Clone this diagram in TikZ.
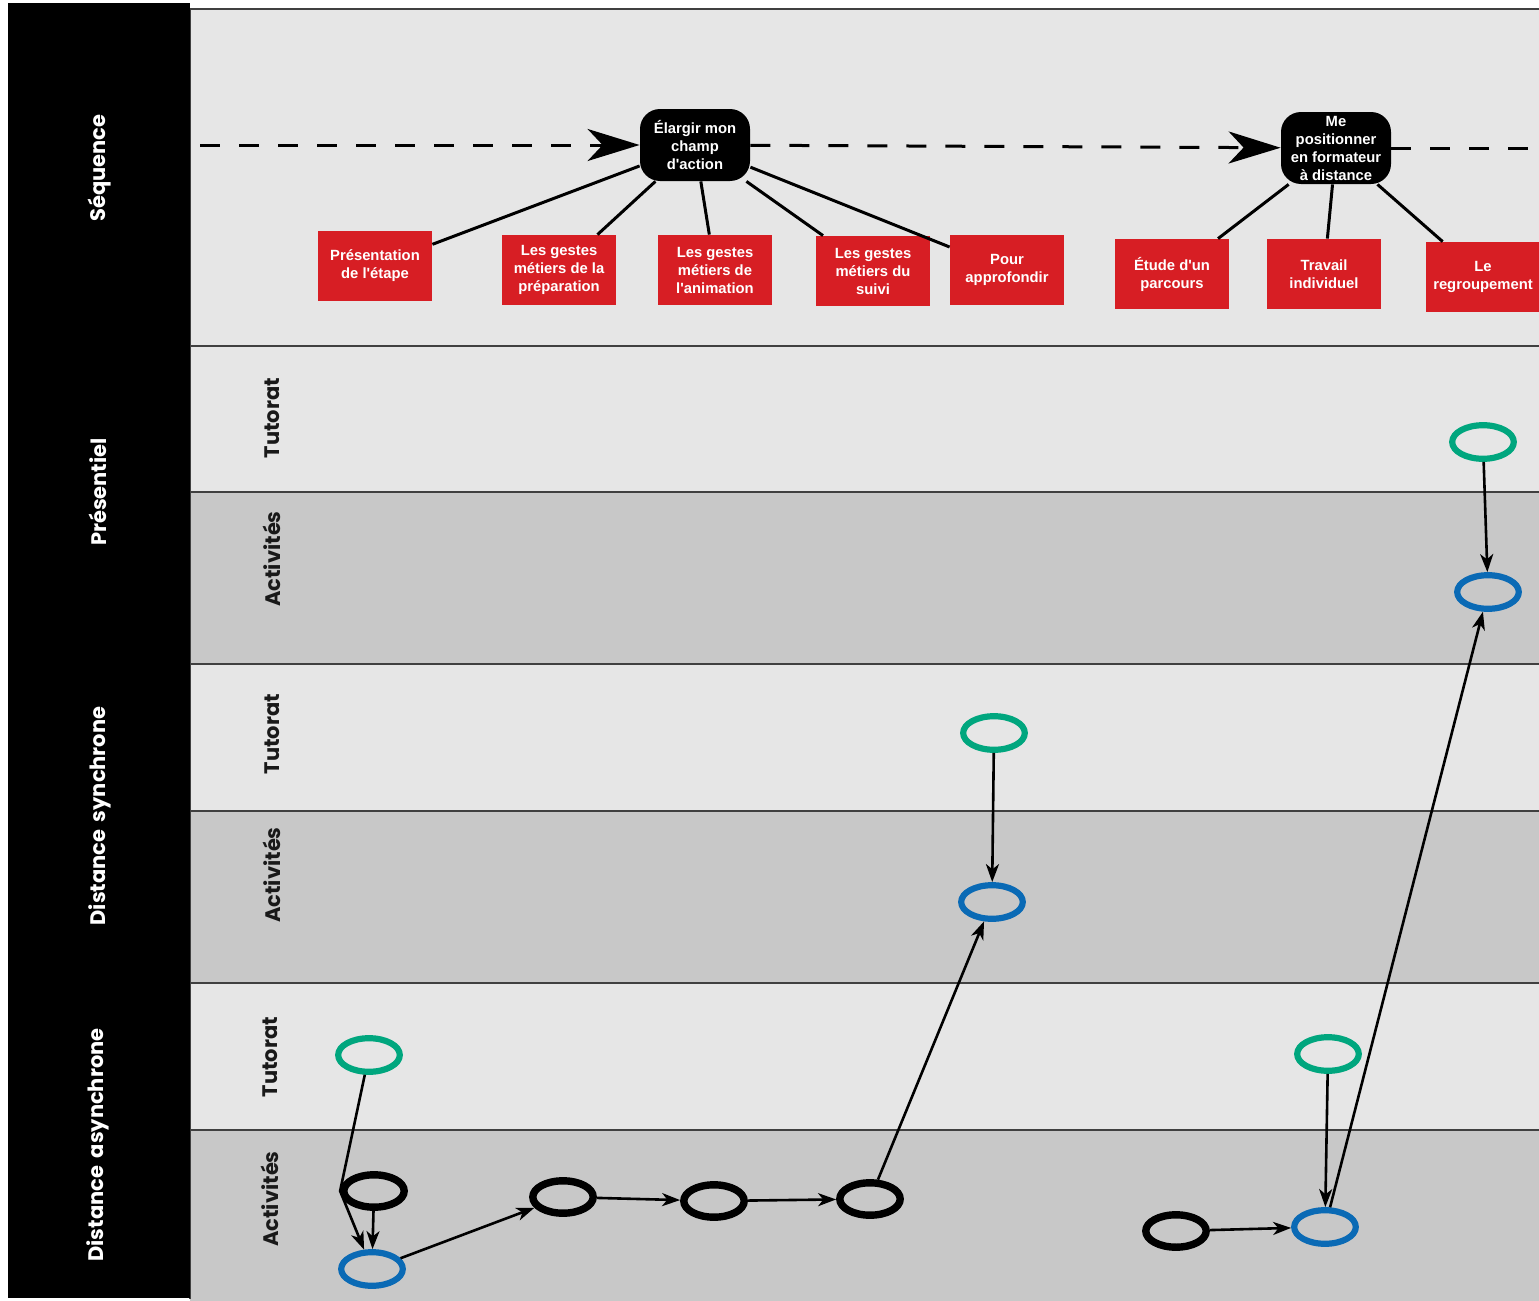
\documentclass[tikz,border=0pt]{standalone}
\usepackage{fontspec}
\setmainfont{Liberation Sans}
\newfontfamily\lanefont{Poppins}[WordSpace=1.7]
\usetikzlibrary{shapes.geometric, arrows.meta, positioning}

\definecolor{boxred}{RGB}{215,30,36}
\definecolor{tutgreen}{RGB}{0,166,126}
\definecolor{actblue}{RGB}{10,106,181}
\definecolor{lanelight}{RGB}{230,230,230}
\definecolor{lanedark}{RGB}{200,200,200}
\definecolor{laneline}{RGB}{64,64,64}
\newcommand{\apos}{\textquotesingle}

\begin{document}
\begin{tikzpicture}[x=0.5pt, y=-0.5pt,
    lanetitle/.style={rotate=90, text=white, font=\lanefont\bfseries\fontsize{10.5}{12}\selectfont},
    sublane/.style={rotate=90, text=black!90, font=\lanefont\bfseries\fontsize{10.5}{12}\selectfont},
    etape/.style={fill=black, text=white, rounded corners=10pt, minimum width=55pt,
        minimum height=36pt, inner sep=0pt, align=center, font=\bfseries\fontsize{7.4}{9}\selectfont},
    sousetape/.style={fill=boxred, text=white, minimum width=57pt, minimum height=35pt,
        inner sep=0pt, align=center, font=\bfseries\fontsize{7.4}{9}\selectfont},
    rond/.style={ellipse, draw, inner sep=0pt},
    tut/.style={rond, draw=tutgreen, line width=3.1pt, minimum width=30.8pt, minimum height=16.8pt},
    act/.style={rond, draw=actblue, line width=3.1pt, minimum width=30.8pt, minimum height=16.8pt},
    tache/.style={rond, draw=black, line width=3.7pt, minimum width=30.2pt, minimum height=16.2pt},
    seqline/.style={line width=1.5pt, dash pattern=on 10pt off 9.5pt},
    link/.style={line width=1.5pt},
    flow/.style={line width=1.3pt, -{Stealth[length=9pt, width=6.5pt, inset=2.6pt]}}
]
\useasboundingbox (0,0) rectangle (1539,1301);

% bandes
\fill[lanelight] (190,9) rectangle (1539,1301);
\fill[lanedark] (190,492) rectangle (1539,664);
\fill[lanedark] (190,811) rectangle (1539,983);
\fill[lanedark] (190,1130) rectangle (1539,1301);
\foreach \y in {9,346,492,664,811,983,1130}
    \draw[laneline, line width=1pt] (190,\y) -- (1539,\y);
\draw[laneline, line width=1pt] (190,9) -- (190,1299);
\fill[black] (8,3) rectangle (190,1298);

% titres
\node[lanetitle] (seq) at (100,168) {Séquence};
\node[lanetitle] (pres) at (98,492) {Présentiel};
\node[lanetitle] (sync) at (100,816) {Distance synchrone};
\node[lanetitle] (async) at (98,1145) {Distance asynchrone};
\node[sublane] (ptutlab) at (272,418) {Tutorat};
\node[sublane] (pactlab) at (272,559) {Activités};
\node[sublane] (stutlab) at (272,734) {Tutorat};
\node[sublane] (sactlab) at (272,875) {Activités};
\node[sublane] (atutlab) at (270,1057) {Tutorat};
\node[sublane] (aactlab) at (270,1199) {Activités};

% sequence
\node[etape] (elargir) at (695,145) {Élargir mon\\champ\\d\apos action};
\node[etape] (formateur) at (1336,148) {Me\\positionner\\en formateur\\à distance};
\coordinate (seqstart) at (200,145);
\coordinate (seqend) at (1530,148);
\draw[seqline, -{Stealth[length=26pt, width=16pt, inset=7.5pt]}] (seqstart) -- (elargir);
\draw[seqline, -{Stealth[length=26pt, width=16pt, inset=7.5pt]}] (elargir) -- (formateur);
\draw[seqline] (formateur) -- (seqend);

\node[sousetape] (presentation) at (375,266) {Présentation\\de l\apos étape};
\node[sousetape] (preparation) at (559,270) {Les gestes\\métiers de la\\préparation};
\node[sousetape] (animation) at (715,270) {Les gestes\\métiers de\\l\apos animation};
\node[sousetape] (suivi) at (873,271) {Les gestes\\métiers du\\suivi};
\node[sousetape] (approfondir) at (1007,270) {Pour\\approfondir};
\node[sousetape] (parcours) at (1172,274) {Étude d\apos un\\parcours};
\node[sousetape] (individuel) at (1324,274) {Travail\\individuel};
\node[sousetape] (regroupement) at (1483,277) {Le\\regroupement};
\foreach \n in {presentation,preparation,animation,suivi,approfondir}
    \draw[link] (elargir) -- (\n);
\foreach \n in {parcours,individuel,regroupement}
    \draw[link] (formateur) -- (\n);

% activites
\node[tut] (pTut) at (1483,442) {};
\node[act] (pAct) at (1488,592) {};
\node[tut] (sTut) at (994,733) {};
\node[act] (sAct) at (992,902) {};
\node[tut] (aTutL) at (369,1055) {};
\node[tache] (aOne) at (374,1191) {};
\node[act] (aStart) at (372,1269) {};
\node[tache] (aTwo) at (563,1197) {};
\node[tache] (aThree) at (714,1201) {};
\node[tache] (aFour) at (870,1199) {};
\node[tut] (aTutR) at (1328,1054) {};
\node[act] (aActR) at (1325,1227) {};
\node[tache] (aFive) at (1176,1231) {};

\draw[flow] (aTutL) -- (aOne.west) -- (aStart);
\draw[flow] (aOne) -- (aStart);
\draw[flow] (aStart) -- (aTwo);
\draw[flow] (aTwo) -- (aThree);
\draw[flow] (aThree) -- (aFour);
\draw[flow] (aFour) -- (sAct);
\draw[flow] (sTut) -- (sAct);
\draw[flow] (aFive) -- (aActR);
\draw[flow] (aTutR) -- (aActR);
\draw[flow] (aActR) -- (pAct);
\draw[flow] (pTut) -- (pAct);
\end{tikzpicture}
\end{document}
